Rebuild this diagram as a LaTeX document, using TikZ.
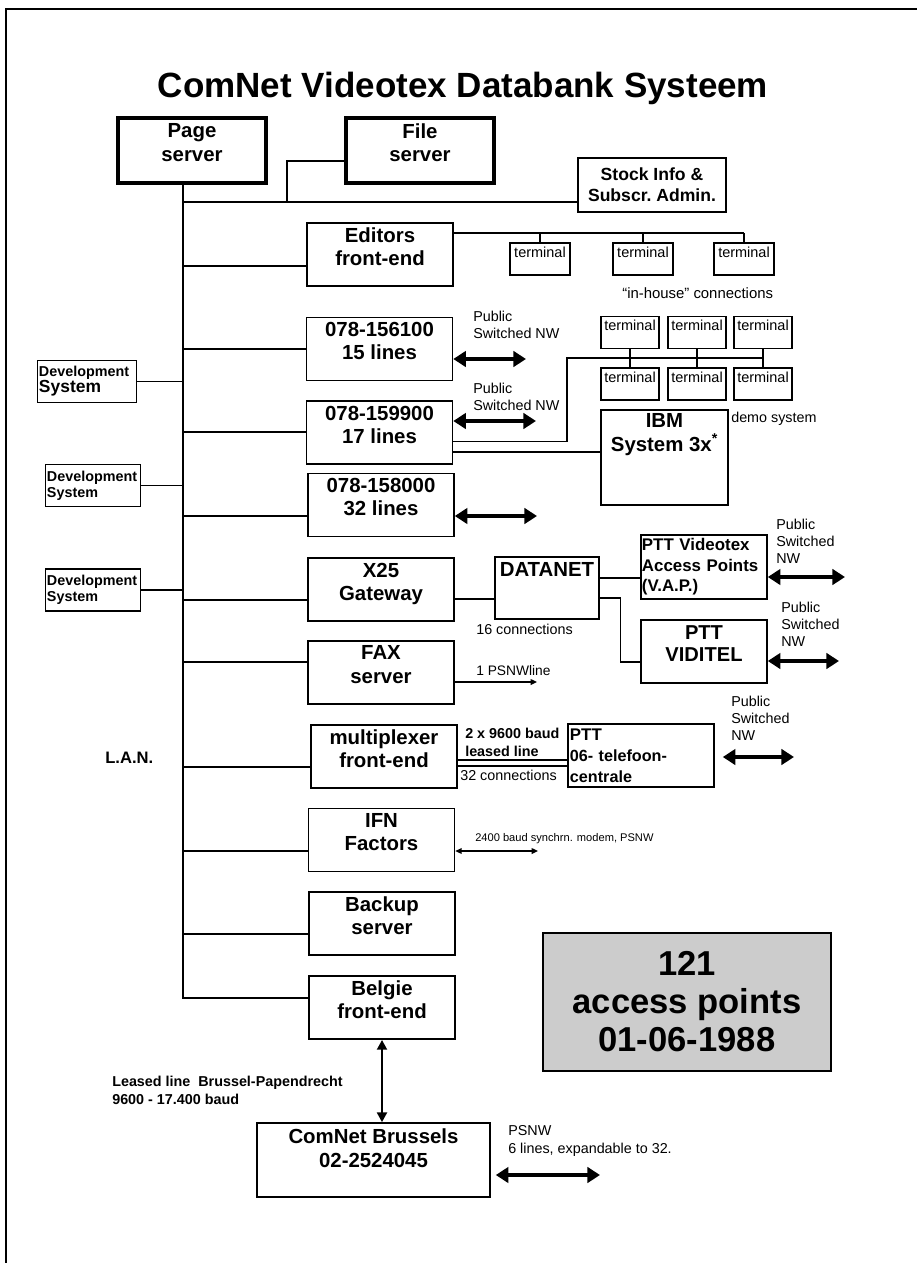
\documentclass[tikz,border=0pt]{standalone}
\usepackage{fontspec}
\setmainfont{Liberation Sans}
\usetikzlibrary{arrows.meta,calc,positioning}
\newcommand{\pad}[1]{\rule[-#1]{0pt}{0pt}}
\tikzstyle{box} = [draw, line width=1.1pt, inner sep=1pt, align=center, font=\bfseries\fontsize{14.5}{16.5}\selectfont]
\tikzstyle{lbox} = [box, minimum width=3.65cm, minimum height=1.58cm, execute at end node=\pad{0.4cm}]
\tikzstyle{srvbox} = [lbox, line width=3pt, minimum width=3.7cm, minimum height=1.625cm]
\tikzstyle{term} = [draw, line width=0.9pt, inner sep=0pt, minimum width=1.5cm, minimum height=0.8cm, font=\fontsize{10.3}{12}\selectfont, execute at end node=\pad{0.35cm}]
\tikzstyle{devbox} = [draw, line width=0.9pt, inner sep=1pt, align=left, minimum height=1.05cm, font=\bfseries\fontsize{10.2}{11.5}\selectfont]
\tikzstyle{note} = [anchor=west, align=left, inner sep=0pt, font=\fontsize{10.2}{12}\selectfont]
\tikzstyle{conn} = [line width=0.9pt]
\tikzstyle{psn} = [<->, line width=2.8pt, >={Triangle[length=9pt,width=11pt]}]
\tikzstyle{smallarrow} = [line width=1pt, >={Triangle[length=4.5pt,width=4pt]}]

\begin{document}
\begin{tikzpicture}[x=0.025cm, y=-0.025cm]
\useasboundingbox (0,0) rectangle (917,1263);
% Page frame
\draw[line width=1pt] (6,1263) -- (6,9) -- (917,9);

% Title
\node[font=\bfseries\fontsize{24.9}{30}\selectfont] (title) at (463,88) {ComNet Videotex Databank Systeem};

% Servers
\node[srvbox] (page) at (192,150.5) {Page\\server};
\node[srvbox] (file) at (420,150.5) {File\\server};
\node[box, minimum width=3.7cm, minimum height=1.35cm, font=\bfseries\fontsize{12.5}{15}\selectfont] (stock) at (652,185) {Stock Info \&\\Subscr.\ Admin.};

% Front-ends on the L.A.N.
\node[lbox] (editors) at (380,254.5) {Editors\\front-end};
\node[lbox] (l156) at (379.5,349) {078-156100\\15 lines};
\node[lbox] (l159) at (379.5,432.5) {078-159900\\17 lines};
\node[lbox] (l158) at (381,505) {078-158000\\32 lines};
\node[lbox] (x25) at (381,589.5) {X25\\Gateway};
\node[lbox] (fax) at (381,672.5) {FAX\\server};
\node[lbox] (mux) at (384,756.5) {multiplexer\\front-end};
\node[lbox] (ifn) at (381.5,840) {IFN\\Factors};
\node[lbox] (backup) at (382,923.5) {Backup\\server};
\node[lbox] (belgie) at (382,1007.5) {Belgie\\front-end};
\node[box, minimum width=5.825cm, minimum height=1.85cm] (brussels) at (373.5,1160) {ComNet Brussels\\02-2524045\pad{0.6cm}};

% Development systems
\node[devbox, text width=2.4cm] (dev1) at (87,381.5) {Development\\{\fontsize{12.4}{13}\selectfont System}};
\node[devbox, text width=2.3cm] (dev2) at (93,485.5) {Development\\System};
\node[devbox, text width=2.3cm] (dev3) at (93,590) {Development\\System};
\node[note, font=\bfseries\fontsize{11.8}{14}\selectfont] (lanlab) at (105,758) {L.A.N.};

% Terminals
\node[term] (t1) at (540,259) {terminal};
\node[term] (t2) at (643,259) {terminal};
\node[term] (t3) at (744,259) {terminal};
\node[note, font=\fontsize{10.6}{12}\selectfont] (inhouse) at (622,293) {``in-house'' connections};
\node[term, minimum width=1.45cm] (ta1) at (630,332.5) {terminal};
\node[term, minimum width=1.45cm] (ta2) at (697,332.5) {terminal};
\node[term, minimum width=1.45cm] (ta3) at (763,332.5) {terminal};
\node[term, minimum width=1.45cm] (tb1) at (630,384) {terminal};
\node[term, minimum width=1.45cm] (tb2) at (697,384) {terminal};
\node[term, minimum width=1.45cm] (tb3) at (763,384) {terminal};
\node[box, minimum width=3.175cm, minimum height=2.375cm] (ibm) at (664.5,457.5) {IBM\\System 3x\textsuperscript{*}\pad{1.25cm}};
\node[note] (demo) at (731,419) {demo system};

% PTT side
\node[box, minimum width=2.6cm, minimum height=1.55cm] (datanet) at (547,588) {DATANET\pad{0.95cm}};
\node[box, minimum width=3.15cm, minimum height=1.6cm, inner sep=0.5pt, text width=3.1cm, align=left, font=\bfseries\fontsize{12}{14.6}\selectfont] (vap) at (704,567) {PTT Videotex\\Access Points\\(V.A.P.)};
\node[lbox, minimum width=3.15cm, minimum height=1.575cm, font=\bfseries\fontsize{14.3}{16}\selectfont] (viditel) at (704,651.5) {PTT\\VIDITEL};
\node[box, minimum width=3.65cm, minimum height=1.575cm, text width=3.55cm, align=left, font=\bfseries\fontsize{11.5}{15}\selectfont] (ptt06) at (641,755.5) {{\fontsize{12}{15}\selectfont PTT}\\06- telefoon-\\centrale};
\node[note] (conn16) at (476,629) {16 connections};
\node[note, font=\fontsize{9.8}{12}\selectfont] (psnwline) at (476,671) {1 PSNWline};
\node[note, font=\bfseries\fontsize{10.2}{12.8}\selectfont] (baud) at (465,742) {2 x 9600 baud\\leased line};
\node[note] (conn32) at (460,775) {32 connections};
\node[note, font=\fontsize{7.9}{10}\selectfont] (modem) at (475,839) {2400 baud synchrn. modem, PSNW};

% Public switched network labels
\node[note] (psnlab1) at (473,324.5) {Public\\Switched NW};
\node[note] (psnlab2) at (473,396.5) {Public\\Switched NW};
\node[note] (psnlab4) at (776,541) {Public\\Switched\\NW};
\node[note] (psnlab5) at (781,624) {Public\\Switched\\NW};
\node[note] (psnlab6) at (731,718.5) {Public\\Switched\\NW};
\node[note, font=\bfseries\fontsize{10.2}{12.8}\selectfont] (leased) at (112,1090) {Leased line\ \ Brussel-Papendrecht\\9600 - 17.400 baud};
\node[note, font=\fontsize{10.2}{12.8}\selectfont] (psnw) at (508,1141) {PSNW\\6 lines, expandable to 32.};

% Access points
\node[draw, line width=1.6pt, fill=black!20, minimum width=7.2cm, minimum height=3.45cm, align=center, font=\bfseries\fontsize{24.6}{27}\selectfont] (acc) at (687,1002) {121\\access points\\01-06-1988};

% L.A.N. backbone
\coordinate (lan) at (183,998);
\coordinate (bus) at (183,202);
\coordinate (fjoin) at (287,202);
\draw[conn] (page.south -| lan) -- (lan) -- (lan -| belgie.west);
\draw[conn] (bus) -- (bus -| stock.west);
\draw[conn] ($(file.west)+(0,10.5)$) -| (fjoin);
\foreach \n/\y in {editors/266, l156/349, l159/432, l158/516, x25/600, fax/662, mux/767, ifn/851, backup/934}
  \draw[conn] (183,\y) -- (\n.west |- 0,\y);
\foreach \d in {dev1, dev2, dev3}
  \draw[conn] (\d.east) -- (\d.east -| lan);

% Editors terminals
\coordinate (ebus) at ($(editors.east)+(0,-21.5)$);
\draw[conn] (ebus) -- (ebus -| t3.north);
\foreach \t in {t1, t2, t3}
  \draw[conn] (ebus -| \t.north) -- (\t.north);

% In-house terminals and IBM
\coordinate (ibus) at (567,358);
\draw[conn] ($(l159.east)+(0,9)$) -| (ibus) -- (ibus -| ta3.south);
\foreach \c in {1, 2, 3}
  \draw[conn] (ta\c.south) -- (tb\c.north);
\draw[conn] ($(l159.east)+(0,19.5)$) coordinate (ib) -- (ib -| ibm.west);

% DATANET links
\draw[conn] ($(x25.east)+(0,9.5)$) coordinate (xd) -- (xd -| datanet.west);
\draw[conn] ($(datanet.east)+(0,-10)$) coordinate (dv) -- (dv -| vap.west);
\draw[conn] ($(datanet.east)+(0,10)$) -| ($(viditel.west)+(-20,10.5)$) -- ($(viditel.west)+(0,10.5)$);

% Multiplexer leased lines
\draw[conn] ($(mux.east)+(0,3.5)$) coordinate (m1) -- (m1 -| ptt06.west);
\draw[conn] ($(mux.east)+(0,9.5)$) coordinate (m2) -- (m2 -| ptt06.west);

% Public switched network arrows
\coordinate (psn1) at (526,359);
\coordinate (psn2) at (536,421);
\coordinate (psn3) at (537,516);
\coordinate (psn4) at (845,577);
\coordinate (psn5) at (839,661);
\coordinate (psn6) at (794,757);
\coordinate (psn7) at (600,1175);
\draw[psn] (l156.east |- psn1) -- (psn1);
\draw[psn] (l159.east |- psn2) -- (psn2);
\draw[psn] (l158.east |- psn3) -- (psn3);
\draw[psn] (vap.east |- psn4) -- (psn4);
\draw[psn] (viditel.east |- psn5) -- (psn5);
\draw[psn] ($(ptt06.east)+(8,1.5)$) -- (psn6);
\draw[psn] ($(brussels.east)+(5,15)$) -- (psn7);

% Modem lines
\coordinate (faxend) at (537,682);
\coordinate (ifnend) at (538,851);
\draw[smallarrow, ->] (fax.east |- faxend) -- (faxend);
\draw[smallarrow, <->] (ifn.east |- ifnend) -- (ifnend);

% Leased line to Brussels
\draw[<->, line width=2pt, >={Triangle[length=7pt,width=7pt]}] (belgie.south) -- (belgie.south |- brussels.north);
\end{tikzpicture}
\end{document}
